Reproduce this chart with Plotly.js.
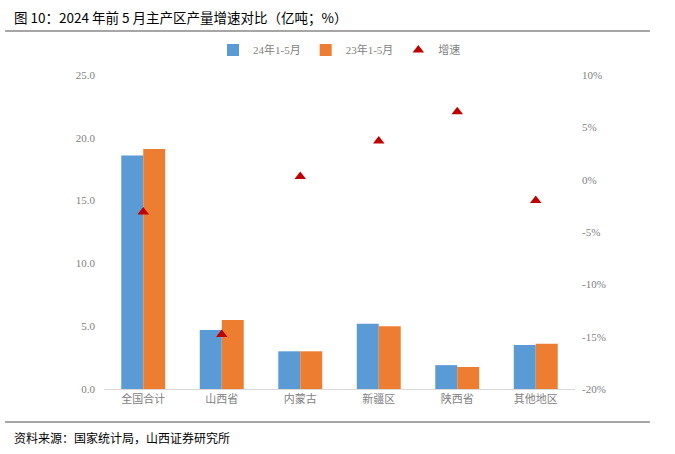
<!DOCTYPE html>
<html>
<head>
<meta charset="utf-8">
<script src="https://cdn.plot.ly/plotly-3.0.1.min.js"></script>
<style>html,body{margin:0;padding:0;background:#fff;}</style>
</head>
<body>
<div id="chart" style="width:675px;height:454px;"></div>
<script>
const categories = ["全国合计", "山西省", "内蒙古", "新疆区", "陕西省", "其他地区"];
const output2024 = [18.6, 4.7, 3.0, 5.2, 1.9, 3.5];
const output2023 = [19.1, 5.5, 3.0, 5.0, 1.75, 3.6];
const growthPct = [-3.1, -14.8, 0.3, 3.7, 6.5, -2.0];
const leftTicks = [0, 5, 10, 15, 20, 25];
const rightTicks = [-20, -15, -10, -5, 0, 5, 10];

const axisFont = {family: "Liberation Serif, Noto Sans CJK SC, serif", size: 11, color: "#7f7f7f"};
const cjkFont = "Noto Sans CJK SC, sans-serif";

const traces = [
  {type: "bar", name: "24年1-5月", x: categories, y: output2024, marker: {color: "#5b9bd5"}},
  {type: "bar", name: "23年1-5月", x: categories, y: output2023, marker: {color: "#ed7d31"}},
  {type: "scatter", mode: "markers", name: "增速", x: categories, y: growthPct, yaxis: "y2",
   marker: {symbol: "triangle-up", color: "#c00000", size: 10}}
];

const layout = {
  width: 675, height: 454,
  margin: {l: 104, r: 100, t: 75, b: 65},
  paper_bgcolor: "#fff", plot_bgcolor: "#fff",
  barmode: "group", bargap: 0.44, bargroupgap: 0,
  showlegend: true,
  legend: {orientation: "h", x: 0.5, xanchor: "center", y: 1.08, yanchor: "middle",
           font: {family: "Liberation Serif, Noto Sans CJK SC, serif", size: 11, color: "#7f7f7f"},
           itemwidth: 30, tracegroupgap: 0},
  xaxis: {tickfont: {family: cjkFont, size: 11, color: "#7f7f7f"}, showline: true, linecolor: "#d9d9d9",
          linewidth: 1, ticks: "", showgrid: false, zeroline: false},
  yaxis: {range: [0, 25], tickvals: leftTicks, ticktext: leftTicks.map(v => v.toFixed(1)),
          tickfont: axisFont, showgrid: false, zeroline: false, showline: false, ticks: "", ticklabelstandoff: 8},
  yaxis2: {overlaying: "y", side: "right", range: [-20, 10], tickvals: rightTicks,
           ticktext: rightTicks.map(v => v + "%"), tickfont: axisFont, showgrid: false,
           zeroline: false, showline: false, ticks: "", ticklabelstandoff: 6},
  shapes: [
    {type: "line", xref: "paper", yref: "paper", x0: -0.21, x1: 1.159, y0: 1.14, y1: 1.14,
     line: {color: "#a6a6a6", width: 2}},
    {type: "line", xref: "paper", yref: "paper", x0: -0.21, x1: 1.159, y0: -0.105, y1: -0.105,
     line: {color: "#a6a6a6", width: 2}}
  ],
  annotations: [
    {text: "图 10：2024 年前 5 月主产区产量增速对比（亿吨；%）", xref: "paper", yref: "paper",
     x: -0.195, y: 1.185, xanchor: "left", yanchor: "middle", showarrow: false,
     font: {family: cjkFont, size: 13.5, color: "#000"}},
    {text: "资料来源：国家统计局，山西证券研究所", xref: "paper", yref: "paper",
     x: -0.195, y: -0.156, xanchor: "left", yanchor: "middle", showarrow: false,
     font: {family: cjkFont, size: 12, color: "#000"}}
  ]
};

Plotly.newPlot("chart", traces, layout, {displayModeBar: false, staticPlot: true});
</script>
</body>
</html>
